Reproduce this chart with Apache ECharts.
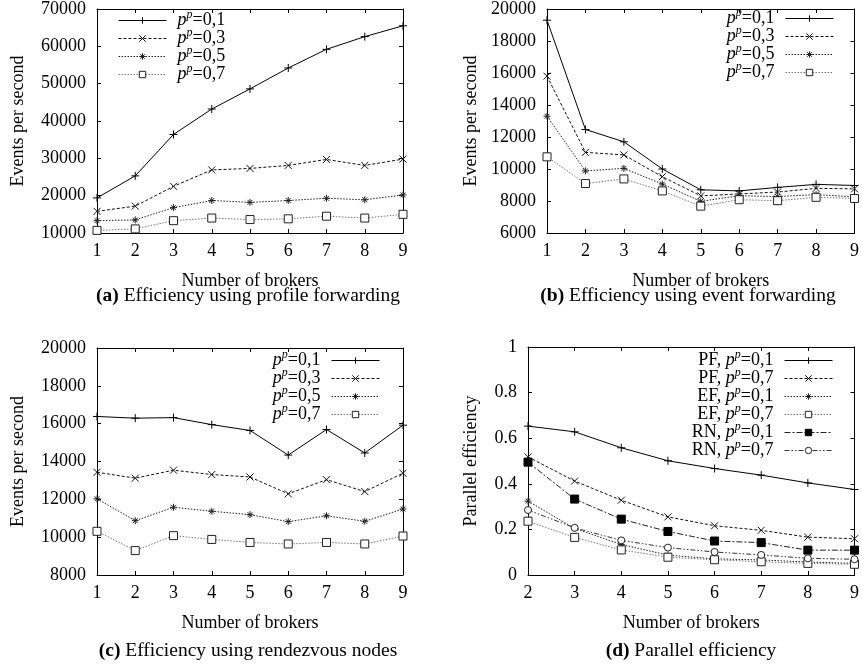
<!DOCTYPE html>
<html><head><meta charset="utf-8">
<script src="https://cdn.jsdelivr.net/npm/echarts@6/dist/echarts.min.js"></script>
<style>html,body{margin:0;padding:0;background:#fff}#c{width:862px;height:667px}</style>
</head><body><div id="c"></div>
<script>
// ---------- data ----------
const brokers = [1, 2, 3, 4, 5, 6, 7, 8, 9];
const brokersPE = [2, 3, 4, 5, 6, 7, 8, 9];
const pLabels = ['0,1', '0,3', '0,5', '0,7'];

// (a) profile forwarding
const pfP01 = [19400, 25300, 36400, 43200, 48600, 54200, 59200, 62600, 65500];
const pfP03 = [15800, 17200, 22500, 26900, 27300, 28100, 29700, 28100, 29800];
const pfP05 = [13300, 13500, 16800, 18700, 18200, 18700, 19300, 18900, 20200];
const pfP07 = [10700, 11100, 13300, 14000, 13600, 13800, 14500, 14000, 15000];

// (b) event forwarding
const efP01 = [19300, 12470, 11700, 10000, 8700, 8630, 8850, 9040, 8970];
const efP03 = [15800, 11040, 10880, 9520, 8320, 8440, 8560, 8790, 8760];
const efP05 = [13300, 9880, 10040, 9060, 7980, 8330, 8280, 8400, 8260];
const efP07 = [10760, 9090, 9380, 8630, 7680, 8080, 8020, 8230, 8160];

// (c) rendezvous nodes
const rnP01 = [16380, 16290, 16320, 15950, 15640, 14340, 15690, 14450, 15920];
const rnP03 = [13430, 13120, 13540, 13310, 13180, 12290, 13040, 12410, 13380];
const rnP05 = [12030, 10870, 11580, 11370, 11190, 10820, 11130, 10840, 11490];
const rnP07 = [10310, 9290, 10080, 9880, 9720, 9640, 9720, 9640, 10060];

// (d) parallel efficiency
const peLabels = ['PF|0,1', 'PF|0,7', 'EF|0,1', 'EF|0,7', 'RN|0,1', 'RN|0,7'];
const pePF01 = [0.653, 0.628, 0.558, 0.501, 0.467, 0.438, 0.404, 0.375];
const pePF07 = [0.518, 0.412, 0.328, 0.255, 0.216, 0.196, 0.166, 0.159];
const peEF01 = [0.324, 0.204, 0.134, 0.087, 0.071, 0.066, 0.057, 0.051];
const peEF07 = [0.236, 0.165, 0.110, 0.078, 0.067, 0.058, 0.051, 0.047];
const peRN01 = [0.495, 0.333, 0.245, 0.191, 0.149, 0.142, 0.109, 0.109];
const peRN07 = [0.285, 0.207, 0.152, 0.120, 0.101, 0.088, 0.073, 0.069];

// tick settings
const yTicksA = {min: 10000, max: 70000, interval: 10000};
const yTicksB = {min: 6000, max: 20000, interval: 2000};
const yTicksC = {min: 8000, max: 20000, interval: 2000};
const yTicksD = {min: 0, max: 1, interval: 0.2};

// ---------- styles ----------
const FONT = 'Liberation Serif';
const PLUS = 'path://M0,5L10,5M5,0L5,10';
const CROSS = 'path://M1,1L9,9M1,9L9,1';
const STAR = 'path://M0,5L10,5M5,0L5,10M1.5,1.5L8.5,8.5M1.5,8.5L8.5,1.5';
const styles = [
  {symbol: PLUS, size: 8, fill: '#000', border: '#000', line: '#000', type: 'solid'},
  {symbol: CROSS, size: 7, fill: '#000', border: '#111', line: '#111', type: [3, 2]},
  {symbol: STAR, size: 7, fill: '#000', border: '#222', line: '#222', type: [1.5, 1.5]},
  {symbol: 'rect', size: 8, fill: '#fff', border: '#222', line: '#777', type: [1.5, 1.5]},
  {symbol: 'rect', size: 8, fill: '#000', border: '#000', line: '#222', type: [6, 2, 2, 2]},
  {symbol: 'circle', size: 7, fill: '#fff', border: '#222', line: '#333', type: [5, 2, 1.5, 2, 1.5, 2]}
];

function mkSeries(name, xs, ys, idx, st) {
  const s = styles[st];
  return {
    name: name, type: 'line', xAxisIndex: idx, yAxisIndex: idx,
    data: xs.map((x, i) => [x, ys[i]]),
    symbol: s.symbol, symbolSize: s.size, showSymbol: true,
    lineStyle: {color: s.line, width: 1, type: s.type},
    itemStyle: {color: s.fill, borderColor: s.border, borderWidth: 1},
    emphasis: {disabled: true}, animation: false, silent: true
  };
}

const grids = [
  {left: 97, top: 8, width: 306, height: 225},
  {left: 547, top: 7, width: 308, height: 226},
  {left: 97, top: 348, width: 306, height: 227},
  {left: 528, top: 347, width: 327, height: 228}
];
const xRanges = [[1, 9], [1, 9], [1, 9], [2, 9]];
const yRanges = [yTicksA, yTicksB, yTicksC, yTicksD];
const yNames = ['Events per second', 'Events per second', 'Events per second', 'Parallel efficiency'];
const yNameGaps = [70, 67, 70, 48];
const numFmt = v => String(+v.toFixed(6));

const xAxes = [], yAxes = [];
grids.forEach((g, i) => {
  xAxes.push({
    type: 'value', gridIndex: i, position: 'bottom', min: xRanges[i][0], max: xRanges[i][1], interval: 1,
    name: 'Number of brokers', nameLocation: 'middle', nameGap: 39,
    nameTextStyle: {fontFamily: FONT, fontSize: 18, color: '#000'},
    axisLine: {show: true, onZero: false, lineStyle: {color: '#000', width: 1}},
    axisTick: {show: true, inside: true, length: 4, lineStyle: {color: '#000'}},
    axisLabel: {fontFamily: FONT, fontSize: 18, color: '#000', margin: 9, formatter: numFmt},
    splitLine: {show: false}
  });
  yAxes.push({
    type: 'value', gridIndex: i, position: 'left', min: yRanges[i].min, max: yRanges[i].max, interval: yRanges[i].interval,
    name: yNames[i], nameLocation: 'middle', nameGap: yNameGaps[i],
    nameTextStyle: {fontFamily: FONT, fontSize: 18, color: '#000'},
    axisLine: {show: true, onZero: false, lineStyle: {color: '#000', width: 1}},
    axisTick: {show: true, inside: true, length: 4, lineStyle: {color: '#000'}},
    axisLabel: {fontFamily: FONT, fontSize: 18, color: '#000', margin: 11, formatter: numFmt},
    splitLine: {show: false}
  });
});
grids.forEach((g, i) => {
  xAxes.push({
    type: 'value', gridIndex: i, position: 'top', min: xRanges[i][0], max: xRanges[i][1], interval: 1,
    axisLine: {show: true, onZero: false, lineStyle: {color: '#000', width: 1}},
    axisTick: {show: true, inside: true, length: 4, lineStyle: {color: '#000'}},
    axisLabel: {show: false}, splitLine: {show: false}
  });
  yAxes.push({
    type: 'value', gridIndex: i, position: 'right', min: yRanges[i].min, max: yRanges[i].max, interval: yRanges[i].interval,
    axisLine: {show: true, onZero: false, lineStyle: {color: '#000', width: 1}},
    axisTick: {show: true, inside: true, length: 4, lineStyle: {color: '#000'}},
    axisLabel: {show: false}, splitLine: {show: false}
  });
});

const series = [];
const seriesA = [pfP01, pfP03, pfP05, pfP07];
const seriesB = [efP01, efP03, efP05, efP07];
const seriesC = [rnP01, rnP03, rnP05, rnP07];
const seriesD = [pePF01, pePF07, peEF01, peEF07, peRN01, peRN07];
seriesA.forEach((d, k) => series.push(mkSeries('a|' + pLabels[k], brokers, d, 0, k)));
seriesB.forEach((d, k) => series.push(mkSeries('b|' + pLabels[k], brokers, d, 1, k)));
seriesC.forEach((d, k) => series.push(mkSeries('c|' + pLabels[k], brokers, d, 2, k)));
seriesD.forEach((d, k) => series.push(mkSeries('d|' + peLabels[k], brokersPE, d, 3, k)));

const rich = {
  n: {fontFamily: FONT, fontSize: 18, lineHeight: 18, color: '#000'},
  it: {fontFamily: FONT, fontSize: 18, lineHeight: 18, fontStyle: 'italic', color: '#000'},
  sup: {fontFamily: FONT, fontSize: 12, lineHeight: 12, fontStyle: 'italic', color: '#000', padding: [0, 0, 11, 0]},
  g: {width: 6, fontSize: 18, lineHeight: 18}
};
function fmtName(name) {
  const parts = name.split('|');
  if (parts.length === 2) {
    const txt = '{it|p}{sup|p}{n|=' + parts[1] + '}';
    return parts[0] === 'a' ? '{g| }' + txt : txt + '{g| }';
  }
  return '{n|' + parts[1] + ', }{it|p}{sup|p}{n|=' + parts[2] + '}{g| }';
}
function mkLegend(names, pos, align) {
  return Object.assign({
    data: names, orient: 'vertical', align: align, itemWidth: 48, itemHeight: 8, itemGap: -5,
    padding: 0, selectedMode: false, formatter: fmtName,
    itemStyle: {borderWidth: 1},
    lineStyle: {width: 1},
    textStyle: {fontFamily: FONT, fontSize: 18, color: '#000', rich: rich},
    inactiveColor: '#000'
  }, pos);
}
const legends = [
  mkLegend(pLabels.map(p => 'a|' + p), {left: 118, top: 9}, 'left'),
  mkLegend(pLabels.map(p => 'b|' + p), {right: 28, top: 7}, 'right'),
  mkLegend(pLabels.map(p => 'c|' + p), {right: 482, top: 349}, 'right'),
  mkLegend(peLabels.map(p => 'd|' + p), {right: 29, top: 349}, 'right')
];

const capRich = {
  b: {fontFamily: FONT, fontSize: 19.5, fontWeight: 'bold', color: '#000'},
  t: {fontFamily: FONT, fontSize: 19.5, color: '#000'}
};
function caption(x, y, tag, txt) {
  return {type: 'text', x: x, y: y, silent: true,
    style: {text: '{b|' + tag + '}{t| ' + txt + '}', rich: capRich, align: 'center', verticalAlign: 'middle',
      fontFamily: FONT, fontSize: 19.5}};
}

const chart = echarts.init(document.getElementById('c'), null, {renderer: 'canvas'});
chart.setOption({
  backgroundColor: '#fff',
  animation: false,
  grid: grids.map(g => Object.assign({show: false, containLabel: false}, g)),
  xAxis: xAxes,
  yAxis: yAxes,
  legend: legends,
  series: series,
  graphic: [
    caption(248, 296, '(a)', 'Efficiency using profile forwarding'),
    caption(688, 296, '(b)', 'Efficiency using event forwarding'),
    caption(248, 651, '(c)', 'Efficiency using rendezvous nodes'),
    caption(691, 651, '(d)', 'Parallel efficiency')
  ]
});
</script></body></html>
